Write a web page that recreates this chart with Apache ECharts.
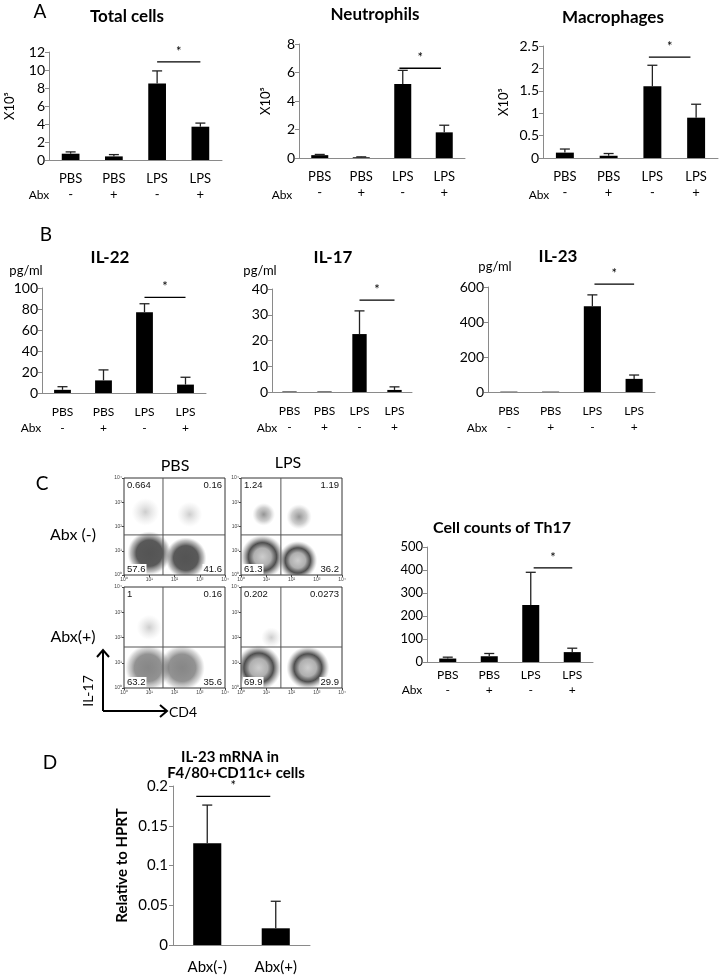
<!DOCTYPE html>
<html><head><meta charset="utf-8">
<script src="https://cdn.jsdelivr.net/npm/echarts@6/dist/echarts.min.js"></script>
<style>html,body{margin:0;padding:0;background:#fff}#c{width:720px;height:976px}</style>
</head><body><div id="c"></div>
<script>
// ---------------- DATA ----------------
const groups = ['PBS', 'PBS', 'LPS', 'LPS'];
const abxSigns = ['-', '+', '-', '+'];
// Panel A (x10^5 cells)
const totalCells = [0.7, 0.4, 8.5, 3.7];
const totalCellsSD = [0.2, 0.2, 1.4, 0.4];
const neutrophils = [0.2, 0.05, 5.2, 1.8];
const neutrophilsSD = [0.05, 0.03, 0.95, 0.5];
const macrophages = [0.12, 0.05, 1.6, 0.9];
const macrophagesSD = [0.08, 0.05, 0.47, 0.3];
// Panel B (pg/ml)
const il22 = [3, 12, 77, 8];
const il22SD = [3, 10, 8, 7];
const il17 = [0.2, 0.2, 22.5, 0.8];
const il17SD = [0, 0, 9, 1.2];
const il23 = [2, 2, 490, 75];
const il23SD = [0, 0, 65, 22];
// Panel C
const th17Counts = [15, 25, 248, 43];
const th17SD = [6, 12, 142, 17];
const flowQuadPBSneg = ['0.664', '0.16', '57.6', '41.6'];
const flowQuadLPSneg = ['1.24', '1.19', '61.3', '36.2'];
const flowQuadPBSpos = ['1', '0.16', '63.2', '35.6'];
const flowQuadLPSpos = ['0.202', '0.0273', '69.9', '29.9'];
const gatePBSneg = [35, 45];
const gateLPSneg = [38, 45];
const gatePBSpos = [35, 42];
const gateLPSpos = [38, 42];
// cell populations: [log10 CD4 centre, log10 IL-17 centre, log10 x spread, log10 y spread, kind]
const cellsPBSneg = [[0.85, 2.6, 0.55, 1.0, 2], [2.6, 2.5, 0.5, 0.8, 2], [1.0, 0.9, 0.95, 0.9, 0], [2.45, 0.7, 0.85, 0.85, 0]];
const cellsLPSneg = [[0.9, 2.5, 0.45, 1.2, 4], [2.3, 2.4, 0.5, 1.2, 4], [0.85, 0.75, 1.1, 0.9, 1], [2.25, 0.6, 0.95, 0.8, 1]];
const cellsPBSpos = [[1.0, 2.4, 0.5, 1.1, 2], [0.95, 0.8, 0.9, 1.0, 3], [2.3, 0.8, 0.9, 1.0, 3]];
const cellsLPSpos = [[1.2, 2.0, 0.4, 0.7, 2], [0.7, 0.8, 0.9, 1.05, 1], [2.65, 0.8, 0.85, 0.95, 1]];
// Panel D
const dCats = ['Abx(-)', 'Abx(+)'];
const il23mRNA = [0.128, 0.021];
const il23mRNASD = [0.048, 0.034];
// significance brackets: [from index, to index, level]
const sigTotal = [2, 3, 10.9];
const sigNeut = [2, 3, 6.3];
const sigMac = [2, 3, 2.25];
const sigIL22 = [2, 3, 91];
const sigIL17 = [2, 3, 35.7];
const sigIL23 = [2, 3, 617];
const sigTh17 = [2, 3, 409];
const sigD = [0, 1, 0.187];

// ---------------- LAYOUT / STYLE ----------------
const FONT = 'Lato, "Open Sans", "Liberation Sans", sans-serif';
const AX = '#8a8a8a';
const chart = echarts.init(document.getElementById('c'), null, {renderer: 'canvas'});
const option = {animation: false, textStyle: {fontFamily: FONT, color: '#000'},
  grid: [], xAxis: [], yAxis: [], series: [], graphic: []};

const catKeys = groups.map((g, i) => g + '|' + abxSigns[i]);

function errItem(params, api) {
  const i = api.value(0), v = api.value(1), t = api.value(2);
  const p0 = api.coord([i, v]), p1 = api.coord([i, t]);
  const w = 5;
  return {type: 'group', children: [
    {type: 'line', shape: {x1: p0[0], y1: p0[1], x2: p1[0], y2: p1[1]}, style: {stroke: '#222', lineWidth: 1.3}},
    {type: 'line', shape: {x1: p1[0] - w, y1: p1[1], x2: p1[0] + w, y2: p1[1]}, style: {stroke: '#222', lineWidth: 1.3}}
  ]};
}
function sigItemFactory(shift, extend) {
  return function (params, api) {
    const bw = api.size([1, 0])[0];
    const a = api.coord([api.value(0), api.value(2)]);
    const b = api.coord([api.value(1), api.value(2)]);
    const x1 = a[0] + shift * bw, x2 = b[0] + (shift + extend) * bw;
    return {type: 'group', children: [
      {type: 'line', shape: {x1: x1, y1: a[1], x2: x2, y2: a[1]}, style: {stroke: '#000', lineWidth: 1.3}},
      {type: 'text', x: (x1 + x2) / 2, y: a[1] - 4, style: {text: '*', fontSize: 13, fontFamily: FONT, fill: '#000', align: 'center', verticalAlign: 'bottom'}}
    ]};
  };
}

function addBarChart(rect, cats, values, sds, sig, ymax, step, cfg) {
  const gi = option.grid.length;
  option.grid.push({left: rect[0], top: rect[1], width: rect[2], height: rect[3]});
  option.xAxis.push({gridIndex: gi, type: 'category', data: cats,
    axisLine: {lineStyle: {color: AX}}, axisTick: {length: 5, lineStyle: {color: AX}},
    axisLabel: {color: '#000', fontSize: cfg.xFont, margin: cfg.xMargin, lineHeight: cfg.xLine, interval: 0,
      fontFamily: FONT, formatter: v => v.split('|').join('\n')}});
  option.yAxis.push({gridIndex: gi, type: 'value', min: 0, max: ymax, interval: step,
    axisLine: {show: true, lineStyle: {color: AX}}, axisTick: {show: true, length: 4, lineStyle: {color: AX}},
    splitLine: {show: false}, axisLabel: {color: '#000', fontSize: cfg.yFont, margin: cfg.yMargin, fontFamily: FONT},
    name: cfg.yName || '', nameLocation: 'middle', nameRotate: 90, nameGap: cfg.nameGap || 30,
    nameTextStyle: {fontSize: cfg.nameFont || 13, fontWeight: cfg.nameBold ? 'bold' : 'normal', color: '#000', fontFamily: FONT}});
  option.series.push({type: 'bar', xAxisIndex: gi, yAxisIndex: gi, data: values, barWidth: '41%',
    itemStyle: {color: '#000'}, silent: true});
  option.series.push({type: 'custom', xAxisIndex: gi, yAxisIndex: gi, renderItem: errItem, z: 3,
    encode: {x: 0, y: [1, 2]},
    data: values.map((v, i) => [i, v, v + sds[i]]).filter((d, i) => sds[i] > 0)});
  option.series.push({type: 'custom', xAxisIndex: gi, yAxisIndex: gi, z: 3,
    renderItem: sigItemFactory(cfg.sigShift || 0, cfg.sigExtend || 0),
    encode: {x: [0, 1], y: 2}, data: [sig]});
}

const cfgA = {xFont: 13, xMargin: 11, xLine: 16, yFont: 14, yMargin: 4, yName: 'X10⁵', nameFont: 13};
addBarChart([49, 52, 173, 108], catKeys, totalCells, totalCellsSD, sigTotal, 12, 2, Object.assign({}, cfgA, {nameGap: 33}));
addBarChart([299, 44, 166, 114], catKeys, neutrophils, neutrophilsSD, sigNeut, 8, 2, Object.assign({}, cfgA, {nameGap: 27, sigShift: -0.08}));
addBarChart([543, 46, 175, 112], catKeys, macrophages, macrophagesSD, sigMac, 2.5, 0.5, Object.assign({}, cfgA, {nameGap: 33, sigShift: -0.08, sigExtend: -0.05}));
const cfgB = {xFont: 12, xMargin: 11, xLine: 16, yFont: 14, yMargin: 4};
addBarChart([42, 288, 164, 105], catKeys, il22, il22SD, sigIL22, 100, 20, cfgB);
addBarChart([272, 289, 140, 103], catKeys, il17, il17SD, sigIL17, 40, 10, cfgB);
addBarChart([488, 287, 167, 105], catKeys, il23, il23SD, sigIL23, 600, 200, Object.assign({}, cfgB, {sigShift: 0.05, sigExtend: -0.05}));
addBarChart([427, 547, 166, 115], catKeys, th17Counts, th17SD, sigTh17, 500, 100, {xFont: 12, xMargin: 6, xLine: 15, yFont: 13, yMargin: 4, sigShift: 0.07, sigExtend: -0.07});
addBarChart([173, 786, 137, 159], dCats, il23mRNA, il23mRNASD, sigD, 0.2, 0.05,
  {xFont: 15, xMargin: 13, xLine: 18, yFont: 15, yMargin: 5, yName: 'Relative to HPRT', nameBold: true, nameFont: 15, nameGap: 43, sigShift: -0.16, sigExtend: 0.08});

// ---- flow cytometry plots ----
const sup = ['⁰', '¹', '²', '³', '⁴'];
const GRAD = [
  {type: 'radial', x: 0.5, y: 0.5, r: 0.5, colorStops: [{offset: 0, color: 'rgba(75,75,75,0.95)'}, {offset: 0.6, color: 'rgba(60,60,60,0.85)'}, {offset: 0.85, color: 'rgba(100,100,100,0.4)'}, {offset: 1, color: 'rgba(150,150,150,0)'}]},
  {type: 'radial', x: 0.5, y: 0.5, r: 0.5, colorStops: [{offset: 0, color: 'rgba(205,205,205,1)'}, {offset: 0.4, color: 'rgba(175,175,175,1)'}, {offset: 0.65, color: 'rgba(60,60,60,0.9)'}, {offset: 0.85, color: 'rgba(100,100,100,0.38)'}, {offset: 1, color: 'rgba(150,150,150,0)'}]},
  {type: 'radial', x: 0.5, y: 0.5, r: 0.5, colorStops: [{offset: 0, color: 'rgba(90,90,90,0.3)'}, {offset: 1, color: 'rgba(150,150,150,0)'}]},
  {type: 'radial', x: 0.5, y: 0.5, r: 0.5, colorStops: [{offset: 0, color: 'rgba(105,105,105,0.8)'}, {offset: 0.6, color: 'rgba(80,80,80,0.62)'}, {offset: 0.85, color: 'rgba(120,120,120,0.3)'}, {offset: 1, color: 'rgba(150,150,150,0)'}]},
  {type: 'radial', x: 0.5, y: 0.5, r: 0.5, colorStops: [{offset: 0, color: 'rgba(60,60,60,0.55)'}, {offset: 0.6, color: 'rgba(90,90,90,0.3)'}, {offset: 1, color: 'rgba(150,150,150,0)'}]}
];
function cellItem(params, api) {
  const cx = api.value(0), cy = api.value(1), rx = api.value(2), ry = api.value(3), kind = api.value(4);
  const c = api.coord([Math.pow(10, cx), Math.pow(10, cy)]);
  const ex = api.coord([Math.pow(10, cx + rx), Math.pow(10, cy)])[0] - c[0];
  const ey = c[1] - api.coord([Math.pow(10, cx), Math.pow(10, cy + ry)])[1];
  return {type: 'ellipse', shape: {cx: c[0], cy: c[1], rx: ex, ry: ey}, style: {fill: GRAD[kind]}};
}
function gateFactory(q) {
  return function (params, api) {
    const cs = params.coordSys;
    const gx = api.coord([api.value(0), 1])[0];
    const gy = api.coord([1, api.value(1)])[1];
    const ts = {fontSize: 9.5, fontFamily: '"Liberation Sans", Arial, sans-serif', fill: '#111'};
    const L = cs.x + 2, R = cs.x + cs.width - 2, T = cs.y + 2, B = cs.y + cs.height - 1;
    return {type: 'group', children: [
      {type: 'line', shape: {x1: gx, y1: cs.y, x2: gx, y2: cs.y + cs.height}, style: {stroke: '#555', lineWidth: 1}},
      {type: 'line', shape: {x1: cs.x, y1: gy, x2: cs.x + cs.width, y2: gy}, style: {stroke: '#555', lineWidth: 1}},
      {type: 'text', x: L, y: T, style: Object.assign({text: q[0], align: 'left', verticalAlign: 'top', backgroundColor: '#fff', padding: [0, 1]}, ts)},
      {type: 'text', x: R, y: T, style: Object.assign({text: q[1], align: 'right', verticalAlign: 'top', backgroundColor: '#fff', padding: [0, 1]}, ts)},
      {type: 'text', x: L, y: B, style: Object.assign({text: q[2], align: 'left', verticalAlign: 'bottom', backgroundColor: '#fff', padding: [0, 1]}, ts)},
      {type: 'text', x: R, y: B, style: Object.assign({text: q[3], align: 'right', verticalAlign: 'bottom', backgroundColor: '#fff', padding: [0, 1]}, ts)}
    ]};
  };
}
function addFlow(rect, quad, gate, cells) {
  const gi = option.grid.length;
  option.grid.push({left: rect[0], top: rect[1], width: rect[2], height: rect[3], show: true, borderColor: '#333', borderWidth: 1, backgroundColor: '#fff'});
  const lab = {fontSize: 5, margin: 2, color: '#444', fontFamily: '"Liberation Sans", sans-serif', formatter: v => '10' + sup[Math.round(Math.log10(v))]};
  option.xAxis.push({gridIndex: gi, type: 'log', logBase: 10, min: 1, max: 10000, axisLine: {show: false},
    axisTick: {show: true, length: 2, lineStyle: {color: '#444'}}, splitLine: {show: false}, axisLabel: lab});
  option.yAxis.push({gridIndex: gi, type: 'log', logBase: 10, min: 1, max: 10000, axisLine: {show: false},
    axisTick: {show: true, length: 2, lineStyle: {color: '#444'}}, splitLine: {show: false}, axisLabel: lab});
  option.series.push({type: 'custom', xAxisIndex: gi, yAxisIndex: gi, clip: true, renderItem: cellItem,
    encode: {x: 0, y: 1}, data: cells, silent: true});
  option.series.push({type: 'custom', xAxisIndex: gi, yAxisIndex: gi, renderItem: gateFactory(quad), z: 4,
    encode: {x: 0, y: 1}, data: [gate], silent: true});
}
addFlow([124, 478, 101, 97], flowQuadPBSneg, gatePBSneg, cellsPBSneg);
addFlow([241, 478, 101, 97], flowQuadLPSneg, gateLPSneg, cellsLPSneg);
addFlow([124, 587, 101, 101], flowQuadPBSpos, gatePBSpos, cellsPBSpos);
addFlow([241, 587, 101, 101], flowQuadLPSpos, gateLPSpos, cellsLPSpos);

// ---------------- free text ----------------
function txt(x, y, s, size, opts) {
  opts = opts || {};
  option.graphic.push({type: 'text', x: x, y: y, rotation: opts.rot || 0, z: 10,
    style: {text: s, fontSize: size, fontFamily: opts.font || FONT, fontWeight: opts.bold ? 'bold' : 'normal',
      fill: '#000', align: opts.align || 'center', verticalAlign: 'middle'}});
}
txt(40, 12, 'A', 19);
txt(127, 17, 'Total cells', 17, {bold: true});
txt(375, 15, 'Neutrophils', 17, {bold: true});
txt(613, 18, 'Macrophages', 17, {bold: true});
txt(39, 195, 'Abx', 12);
txt(282, 195, 'Abx', 12);
txt(539, 195, 'Abx', 12);
txt(46, 235, 'B', 19);
txt(110, 258, 'IL-22', 17, {bold: true});
txt(333, 258, 'IL-17', 17, {bold: true});
txt(558, 257, 'IL-23', 17, {bold: true});
txt(26, 271, 'pg/ml', 13);
txt(260, 271, 'pg/ml', 13);
txt(495, 267, 'pg/ml', 13);
txt(31, 428, 'Abx', 12);
txt(267, 428, 'Abx', 12);
txt(477, 428, 'Abx', 12);
txt(42, 484, 'C', 19);
txt(175, 466, 'PBS', 16);
txt(288, 463, 'LPS', 16);
txt(73, 535, 'Abx (-)', 16);
txt(73, 637, 'Abx(+)', 16);
txt(88, 691, 'IL-17', 14, {rot: Math.PI / 2});
txt(183, 712, 'CD4', 14);
txt(502, 528, 'Cell counts of Th17', 16, {bold: true});
txt(412, 690, 'Abx', 12);
txt(50, 763, 'D', 19);
txt(230, 757, 'IL-23 mRNA in', 15, {bold: true});
txt(236, 773, 'F4/80+CD11c+ cells', 15, {bold: true});
option.graphic.push(
  {type: 'polyline', shape: {points: [[103, 711], [103, 651]]}, style: {stroke: '#000', lineWidth: 2, fill: null}},
  {type: 'polyline', shape: {points: [[97, 657], [103, 650], [109, 657]]}, style: {stroke: '#000', lineWidth: 2, fill: null}},
  {type: 'polyline', shape: {points: [[103, 711], [166, 711]]}, style: {stroke: '#000', lineWidth: 2, fill: null}},
  {type: 'polyline', shape: {points: [[160, 705], [167, 711], [160, 717]]}, style: {stroke: '#000', lineWidth: 2, fill: null}}
);

chart.setOption(option);
</script></body></html>
